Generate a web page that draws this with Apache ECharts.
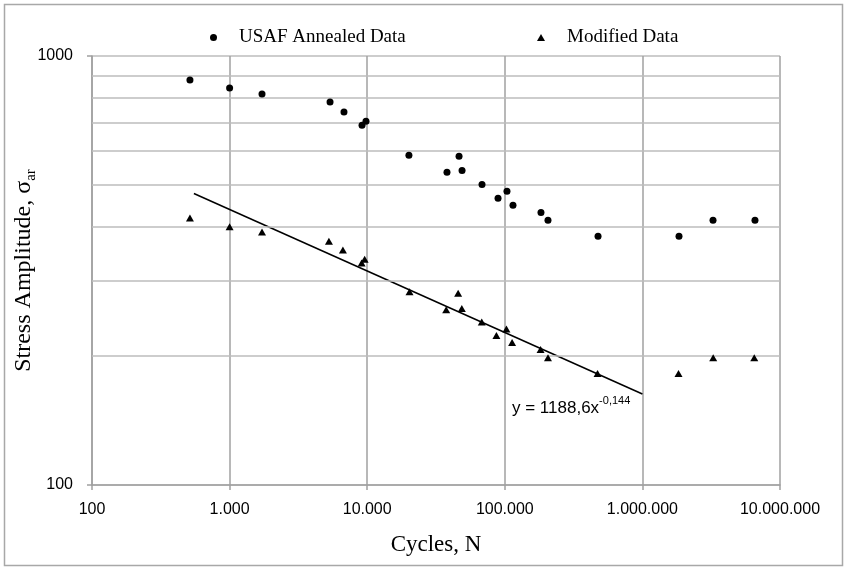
<!DOCTYPE html>
<html>
<head>
<meta charset="utf-8">
<script src="https://cdn.jsdelivr.net/npm/echarts@6/dist/echarts.min.js"></script>
<style>
  html, body { margin: 0; padding: 0; background: #fff; }
  #chart { width: 848px; height: 570px; }
</style>
</head>
<body>
<div id="chart"></div>
<script>
// USAF annealed data: [cycles, stress amplitude]
var usafData = [
  [515, 879], [1000, 842], [1720, 815], [5370, 781], [6780, 740],
  [9170, 690], [9800, 705], [20100, 587], [38000, 536], [46500, 584],
  [48900, 541], [68300, 502], [89300, 466], [103700, 484], [114700, 449],
  [183200, 432], [206000, 414], [476000, 380], [1845000, 380],
  [3260000, 414], [6580000, 414]
];
// modified data
var modData = [
  [515, 419], [1000, 400], [1720, 389], [5270, 370], [6660, 353],
  [9580, 336], [9110, 329], [20300, 282], [45800, 280], [37500, 256],
  [48700, 258], [68000, 240], [86900, 223], [102800, 231], [113000, 215],
  [182000, 207], [206000, 198], [472000, 182], [1830000, 182],
  [3270000, 198], [6500000, 198]
];
// trend line end points
var trendLine = [[550, 478], [1000000, 163]];
// horizontal grid values between 100 and 1000
var yGridValues = [200, 300, 400, 500, 600, 700, 800, 900];

var chartDom = document.getElementById('chart');
var myChart = echarts.init(chartDom);

function fmtThousands(v) {
  return String(Math.round(v)).replace(/\B(?=(\d{3})+(?!\d))/g, '.');
}

var serif = 'Liberation Serif';
var sans = 'Liberation Sans';

var option = {
  backgroundColor: '#fff',
  animation: false,
  grid: { left: 92, right: 68, top: 56, bottom: 85, outerBoundsMode: 'none', containLabel: false },
  legend: [
    {
      left: 205, top: 23,
      icon: 'circle', itemWidth: 7, itemHeight: 7,
      data: ['USAF Annealed Data'],
      textStyle: { fontFamily: serif, fontSize: 19, color: '#000', padding: [0, 0, 0, 17] }
    },
    {
      left: 532, top: 23,
      icon: 'triangle', itemWidth: 8, itemHeight: 7,
      data: ['Modified Data'],
      textStyle: { fontFamily: serif, fontSize: 19, color: '#000', padding: [0, 0, 0, 17] }
    }
  ],
  xAxis: {
    type: 'log', logBase: 10, min: 100, max: 10000000,
    name: 'Cycles, N', nameLocation: 'middle', nameGap: 48,
    nameTextStyle: { fontFamily: serif, fontSize: 23, color: '#000' },
    axisLine: { lineStyle: { color: '#a0a0a0', width: 1.5 } },
    axisTick: { show: true, length: 5, lineStyle: { color: '#a0a0a0', width: 1.5 } },
    axisLabel: {
      fontFamily: sans, fontSize: 16, color: '#000', margin: 17,
      formatter: fmtThousands
    },
    splitLine: { show: true, lineStyle: { color: '#a0a0a0', width: 1.5 } }
  },
  yAxis: {
    type: 'log', logBase: 10, min: 100, max: 1000,
    name: '{m|Stress Amplitude, σ}{s|ar}', nameLocation: 'middle', nameGap: 53, nameRotate: 90,
    nameMoveOverlap: false,
    nameTextStyle: {
      rich: {
        m: { fontFamily: serif, fontSize: 24, color: '#000', lineHeight: 30, verticalAlign: 'middle' },
        s: { fontFamily: serif, fontSize: 15, color: '#000', lineHeight: 16, verticalAlign: 'bottom' }
      }
    },
    axisLine: { show: true, lineStyle: { color: '#a0a0a0', width: 1.5 } },
    axisTick: { show: true, length: 5, lineStyle: { color: '#a0a0a0', width: 1.5 } },
    axisLabel: {
      fontFamily: sans, fontSize: 16, color: '#000', margin: 19,
      formatter: function (v) { return String(Math.round(v)); }
    },
    splitLine: { show: true, lineStyle: { color: '#bdbdbd', width: 1.5 } }
  },
  series: [
    {
      name: 'USAF Annealed Data',
      type: 'scatter',
      symbol: 'circle',
      symbolSize: 7,
      itemStyle: { color: '#000', opacity: 1 },
      data: usafData,
      markLine: {
        silent: true,
        symbol: 'none',
        label: { show: false },
        lineStyle: { color: '#bdbdbd', width: 1.5, type: 'solid' },
        data: yGridValues.map(function (v) { return { yAxis: v }; })
      },
      z: 5
    },
    {
      name: 'Modified Data',
      type: 'scatter',
      symbol: 'triangle',
      symbolSize: [8, 7],
      itemStyle: { color: '#000', opacity: 1 },
      data: modData,
      z: 5
    },
    {
      name: 'trend',
      type: 'line',
      showSymbol: false,
      symbol: 'none',
      lineStyle: { color: '#000', width: 1.5 },
      data: trendLine,
      z: 4
    }
  ],
  graphic: [
    {
      type: 'text',
      left: 512, top: 395,
      style: {
        text: '{m|y = 1188,6x}{p|-0,144}',
        rich: {
          m: { fontFamily: sans, fontSize: 17, fill: '#000', lineHeight: 22, verticalAlign: 'bottom' },
          p: { fontFamily: sans, fontSize: 11, fill: '#000', lineHeight: 22, verticalAlign: 'top' }
        }
      }
    },
    {
      type: 'rect',
      shape: { x: 4.5, y: 4.5, width: 838, height: 561 },
      style: { fill: 'none', stroke: '#a8a8a8', lineWidth: 1.5 },
      silent: true
    }
  ]
};

option && myChart.setOption(option);
</script>
</body>
</html>
